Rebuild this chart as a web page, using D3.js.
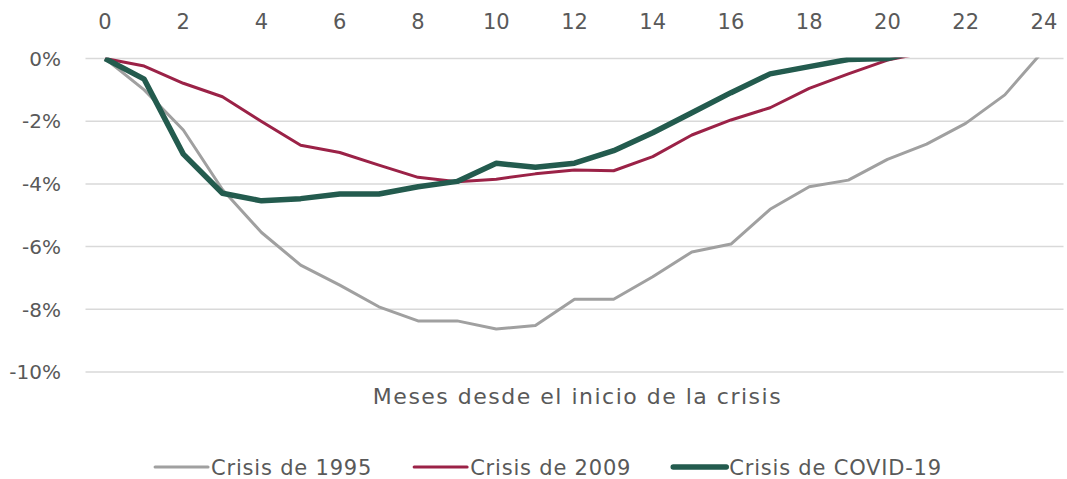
<!DOCTYPE html>
<html>
<head>
<meta charset="utf-8">
<script src="https://cdn.jsdelivr.net/npm/d3@7"></script>
<style>
  body { margin: 0; background: #fff; }
  text { font-family: "DejaVu Sans", sans-serif; fill: #595959; }
</style>
</head>
<body>
<div id="chart"></div>
<script>
// months since start of crisis
let months = d3.range(0, 25);
let monthTicks = d3.range(0, 25, 2);
let yTicks = [0, -2, -4, -6, -8, -10];

// % change (values above 0 get clipped by the plot area)
let crisis1995 = [0, -1.0, -2.28, -4.18, -5.55, -6.59, -7.23, -7.92, -8.37, -8.37, -8.63, -8.52,
  -7.68, -7.68, -6.96, -6.17, -5.92, -4.81, -4.09, -3.88, -3.22, -2.73, -2.07, -1.16, 0.27];
let crisis2009 = [0, -0.24, -0.79, -1.22, -2.01, -2.77, -3.0, -3.40, -3.79, -3.93, -3.85, -3.68,
  -3.56, -3.58, -3.13, -2.44, -1.96, -1.57, -0.95, -0.49, -0.05, 0.2];
let crisisCovid = [0, -0.66, -3.05, -4.30, -4.54, -4.47, -4.32, -4.32, -4.09, -3.92, -3.34, -3.47,
  -3.34, -2.94, -2.37, -1.73, -1.09, -0.49, -0.26, -0.03, 0.0, 0.3];

let seriesNames = ["Crisis de 1995", "Crisis de 2009", "Crisis de COVID-19"];
let seriesColors = ["#A0A0A0", "#9B2247", "#235B4E"];
let seriesWidths = [3, 3, 5.5];
let seriesData = [crisis1995, crisis2009, crisisCovid];

let fullWidth = 1067;
let fullHeight = 479;
let margin = {top: 58.5, right: 3.5, bottom: 107, left: 85.5};

let svg = d3.select("#chart").append("svg")
    .attr("width", fullWidth)
    .attr("height", fullHeight);

let x = d3.scalePoint()
    .domain(months)
    .range([margin.left, fullWidth - margin.right])
    .padding(0.5);

let y = d3.scaleLinear()
    .domain([-10, 0])
    .range([fullHeight - margin.bottom, margin.top]);

svg.append("clipPath").attr("id", "plotClip")
  .append("rect")
    .attr("x", margin.left)
    .attr("y", margin.top - 1)
    .attr("width", fullWidth - margin.left - margin.right)
    .attr("height", y(-10) - margin.top + 2);

// gridlines
svg.append("g").selectAll("line")
    .data(yTicks)
    .enter().append("line")
    .attr("x1", margin.left)
    .attr("x2", fullWidth - margin.right)
    .attr("y1", d => y(d))
    .attr("y2", d => y(d))
    .attr("stroke", "#D9D9D9")
    .attr("stroke-width", 1.5);

// y labels
svg.append("g").selectAll("text")
    .data(yTicks)
    .enter().append("text")
    .attr("x", 61)
    .attr("y", d => y(d))
    .attr("dy", "0.36em")
    .attr("text-anchor", "end")
    .style("font-size", "20px")
    .text(d => d + "%");

// month labels along the top
svg.append("g").selectAll("text")
    .data(monthTicks)
    .enter().append("text")
    .attr("x", d => x(d))
    .attr("y", 21)
    .attr("dy", "0.36em")
    .attr("text-anchor", "middle")
    .style("font-size", "21px")
    .text(d => d);

let line = d3.line()
    .x((d, i) => x(months[i]))
    .y(d => y(d));

let lines = svg.append("g").attr("clip-path", "url(#plotClip)");
seriesData.forEach(function(data, i) {
  lines.append("path")
      .attr("d", line(data))
      .attr("fill", "none")
      .attr("stroke", seriesColors[i])
      .attr("stroke-width", seriesWidths[i])
      .attr("stroke-linejoin", "round");
});

// axis title
svg.append("text")
    .attr("x", (margin.left + fullWidth - margin.right) / 2 + 3)
    .attr("y", 396)
    .attr("dy", "0.36em")
    .attr("text-anchor", "middle")
    .style("font-size", "22px")
    .style("letter-spacing", "1.5px")
    .text("Meses desde el inicio de la crisis");

// legend
let legendLine = 53;
let legendGap = 3;
let legendSpacing = 42;
let legend = svg.append("g");
let cursor = 0;
seriesNames.forEach(function(name, i) {
  let g = legend.append("g").attr("transform", "translate(" + cursor + ",0)");
  g.append("line")
      .attr("x1", 0).attr("x2", legendLine)
      .attr("y1", 0).attr("y2", 0)
      .attr("stroke", seriesColors[i])
      .attr("stroke-width", seriesWidths[i])
      .attr("stroke-linecap", "round");
  let t = g.append("text")
      .attr("x", legendLine + legendGap)
      .attr("y", 0)
      .attr("dy", "0.36em")
      .style("font-size", "21px")
      .style("letter-spacing", "0.8px")
      .text(name);
  cursor += legendLine + legendGap + t.node().getComputedTextLength() + legendSpacing;
});
let legendWidth = cursor - legendSpacing;
legend.attr("transform", "translate(" + (548.5 - legendWidth / 2) + ",467)");
</script>
</body>
</html>
